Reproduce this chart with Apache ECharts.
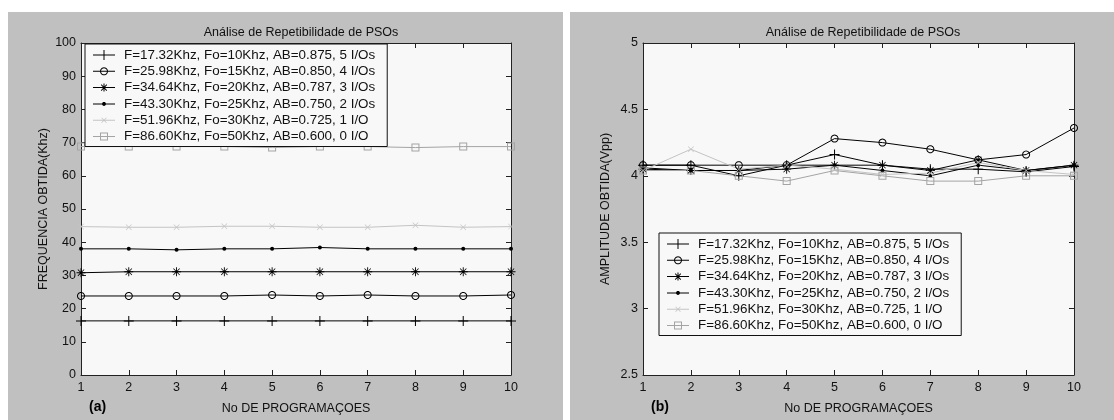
<!DOCTYPE html>
<html>
<head>
<meta charset="utf-8">
<script src="https://cdn.jsdelivr.net/npm/echarts@6/dist/echarts.min.js"></script>
<style>
  html, body { margin: 0; padding: 0; background: #ffffff; }
  #chart { width: 1114px; height: 420px; }
</style>
</head>
<body>
<div id="chart"></div>
<script>
// Programming runs (x axis) shared by both panels
const runs = [1, 2, 3, 4, 5, 6, 7, 8, 9, 10];

// Series names (filter configurations)
const seriesNames = [
  'F=17.32Khz, Fo=10Khz, AB=0.875, 5 I/Os',
  'F=25.98Khz, Fo=15Khz, AB=0.850, 4 I/Os',
  'F=34.64Khz, Fo=20Khz, AB=0.787, 3 I/Os',
  'F=43.30Khz, Fo=25Khz, AB=0.750, 2 I/Os',
  'F=51.96Khz, Fo=30Khz, AB=0.725, 1 I/O',
  'F=86.60Khz, Fo=50Khz, AB=0.600, 0 I/O'
];

// (a) obtained frequency, kHz
const freq17 = [16.3, 16.3, 16.3, 16.3, 16.3, 16.3, 16.3, 16.3, 16.3, 16.3];
const freq26 = [23.8, 23.8, 23.8, 23.8, 24.1, 23.8, 24.1, 23.8, 23.8, 24.1];
const freq35 = [30.8, 31.1, 31.1, 31.1, 31.1, 31.1, 31.1, 31.1, 31.1, 31.1];
const freq43 = [38.0, 38.0, 37.7, 38.0, 38.0, 38.4, 38.0, 38.0, 38.0, 38.0];
const freq52 = [44.7, 44.5, 44.5, 44.8, 44.8, 44.5, 44.5, 45.1, 44.5, 44.7];
const freq87 = [68.8, 68.8, 68.8, 68.8, 68.5, 68.8, 68.8, 68.5, 68.8, 68.8];

// (b) obtained amplitude, Vpp
const amp17 = [4.08, 4.08, 4.00, 4.08, 4.16, 4.08, 4.05, 4.05, 4.03, 4.07];
const amp26 = [4.08, 4.08, 4.08, 4.08, 4.28, 4.25, 4.20, 4.12, 4.16, 4.36];
const amp35 = [4.05, 4.04, 4.04, 4.05, 4.08, 4.08, 4.04, 4.12, 4.04, 4.08];
const amp43 = [4.06, 4.04, 4.04, 4.08, 4.08, 4.04, 4.00, 4.08, 4.04, 4.08];
const amp52 = [4.04, 4.20, 4.05, 4.08, 4.05, 4.01, 4.02, 4.10, 4.04, 4.01];
const amp87 = [4.04, 4.04, 4.00, 3.96, 4.04, 4.00, 3.96, 3.96, 4.00, 4.00];

// Axis tick values
const freqTicks = [0, 10, 20, 30, 40, 50, 60, 70, 80, 90, 100];
const ampTicks = [2.5, 3, 3.5, 4, 4.5, 5];

const FONT = '"Liberation Sans", Arial, sans-serif';
const FS = 12.5;

// Regular polygon path (used for circles / rings); reverse winding cuts a hole
function poly(cx, cy, r, n, reverse) {
  const pts = [];
  for (let i = 0; i < n; i++) {
    const a = (reverse ? -1 : 1) * (2 * Math.PI * i / n);
    pts.push((cx + r * Math.cos(a)).toFixed(2) + ',' + (cy + r * Math.sin(a)).toFixed(2));
  }
  return 'M' + pts.join('L') + 'Z';
}

// ---- plot markers, drawn as thin filled strokes (hollow where needed) ----
const SYM_PLUS = 'path://M-5,-0.5L5,-0.5L5,0.5L-5,0.5Z M-0.5,-5L0.5,-5L0.5,5L-0.5,5Z';
const SYM_CIRCLE = 'path://' + poly(0, 0, 5, 28, false) + ' ' + poly(0, 0, 3.75, 28, true);
const SYM_STAR = 'path://M-5,-0.5L5,-0.5L5,0.5L-5,0.5Z M-0.5,-5L0.5,-5L0.5,5L-0.5,5Z M-3.8,-3.2L-3.2,-3.8L3.8,3.2L3.2,3.8Z M3.2,-3.8L3.8,-3.2L-3.2,3.8L-3.8,3.2Z';
const SYM_X = 'path://M-5,-4.3L-4.3,-5L5,4.3L4.3,5Z M4.3,-5L5,-4.3L-4.3,5L-5,4.3Z';
const SYM_SQUARE = 'path://M-5,-5L5,-5L5,5L-5,5Z M-3.75,3.75L3.75,3.75L3.75,-3.75L-3.75,-3.75Z';

// ---- legend icons: 22x10 box with a line sample and the marker in the middle ----
const ICON_LINE = 'M0,4.5L22,4.5L22,5.5L0,5.5Z';
const ICON_PLUS = 'path://' + ICON_LINE + ' M10.5,0L11.5,0L11.5,10L10.5,10Z';
const ICON_CIRCLE = 'path://' + ICON_LINE + ' ' + poly(11, 5, 4, 24, false) + ' ' + poly(11, 5, 3, 24, true);
const ICON_STAR = 'path://' + ICON_LINE + ' M10.5,1L11.5,1L11.5,9L10.5,9Z M7.9,2.3L8.5,1.7L14.1,7.7L13.5,8.3Z M13.5,1.7L14.1,2.3L8.5,8.3L7.9,7.7Z';
const ICON_DOT = 'path://' + ICON_LINE + ' ' + poly(11, 5, 2, 16, false);
const ICON_X = 'path://' + ICON_LINE + ' M8.3,2.8L8.8,2.3L13.7,7.2L13.2,7.7Z M13.2,2.3L13.7,2.8L8.8,7.7L8.3,7.2Z';
const ICON_SQUARE = 'path://' + ICON_LINE + ' M7,1L15,1L15,9L7,9Z M8,8L14,8L14,2L8,2Z';

const styles = [
  { symbol: SYM_PLUS, size: 10, color: '#000000', icon: ICON_PLUS },
  { symbol: SYM_CIRCLE, size: 8, color: '#000000', icon: ICON_CIRCLE },
  { symbol: SYM_STAR, size: 9, color: '#000000', icon: ICON_STAR },
  { symbol: 'circle', size: 4, color: '#000000', icon: ICON_DOT },
  { symbol: SYM_X, size: 6, color: '#c4c4c4', icon: ICON_X },
  { symbol: SYM_SQUARE, size: 8, color: '#a4a4a4', icon: ICON_SQUARE }
];

function pairs(vals) {
  return runs.map((r, i) => [r, vals[i]]);
}

function makeSeries(valueSets, axisIndex) {
  return valueSets.map((vals, k) => ({
    name: seriesNames[k],
    type: 'line',
    xAxisIndex: axisIndex,
    yAxisIndex: axisIndex,
    data: pairs(vals),
    symbol: styles[k].symbol,
    symbolSize: styles[k].size,
    symbolKeepAspect: true,
    showAllSymbol: true,
    animation: false,
    color: styles[k].color,
    lineStyle: { color: styles[k].color, width: 1 },
    itemStyle: { color: styles[k].color, borderWidth: 0 },
    emphasis: { disabled: true }
  }));
}

const axisText = { color: '#111111', fontFamily: FONT, fontSize: FS };
const lineCol = '#222222';

function xAxes(gridIndex) {
  return [
    {
      gridIndex: gridIndex, type: 'value', position: 'bottom',
      min: 1, max: 10, interval: 1,
      name: 'No DE PROGRAMAÇOES', nameLocation: 'middle', nameGap: 27,
      nameTextStyle: axisText,
      axisLine: { show: true, onZero: false, lineStyle: { color: lineCol } },
      axisTick: { show: true, inside: true, length: 5, lineStyle: { color: lineCol } },
      axisLabel: Object.assign({ margin: 6 }, axisText),
      splitLine: { show: false }
    },
    {
      gridIndex: gridIndex, type: 'value', position: 'top',
      min: 1, max: 10, interval: 1,
      axisLine: { show: true, onZero: false, lineStyle: { color: lineCol } },
      axisTick: { show: true, inside: true, length: 5, lineStyle: { color: lineCol } },
      axisLabel: { show: false },
      splitLine: { show: false }
    }
  ];
}

function yAxes(gridIndex, ticks, name) {
  const step = ticks[1] - ticks[0];
  return [
    {
      gridIndex: gridIndex, type: 'value', position: 'left',
      min: ticks[0], max: ticks[ticks.length - 1], interval: step,
      name: name, nameLocation: 'middle', nameGap: 31, nameRotate: 90,
      nameTextStyle: axisText,
      axisLine: { show: true, onZero: false, lineStyle: { color: lineCol } },
      axisTick: { show: true, inside: true, length: 5, lineStyle: { color: lineCol } },
      axisLabel: Object.assign({ margin: 5 }, axisText),
      splitLine: { show: false }
    },
    {
      gridIndex: gridIndex, type: 'value', position: 'right',
      min: ticks[0], max: ticks[ticks.length - 1], interval: step,
      axisLine: { show: true, onZero: false, lineStyle: { color: lineCol } },
      axisTick: { show: true, inside: true, length: 5, lineStyle: { color: lineCol } },
      axisLabel: { show: false },
      splitLine: { show: false }
    }
  ];
}

const leftX = xAxes(0), rightX = xAxes(1);
const leftY = yAxes(0, freqTicks, 'FREQUENCIA OBTIDA(Khz)');
const rightY = yAxes(1, ampTicks, 'AMPLITUDE OBTIDA(Vpp)');

// Series bind to axis pairs: bottom x / left y of each grid
const seriesA = makeSeries([freq17, freq26, freq35, freq43, freq52, freq87], 0);
const seriesB = makeSeries([amp17, amp26, amp35, amp43, amp52, amp87], 2);

const legendBase = {
  orient: 'vertical',
  backgroundColor: '#f8f8f8',
  borderColor: '#111111',
  borderWidth: 1,
  borderRadius: 0,
  padding: [4, 12, 3, 8],
  itemGap: 2.3,
  itemWidth: 22,
  itemHeight: 10,
  symbolKeepAspect: true,
  selectedMode: false,
  itemStyle: { borderWidth: 0 },
  textStyle: { color: '#111111', fontFamily: FONT, fontSize: 13.4, lineHeight: 14, padding: [0, 0, 0, 4] },
  data: seriesNames.map((n, k) => ({ name: n, icon: styles[k].icon }))
};

const option = {
  backgroundColor: '#ffffff',
  animation: false,
  graphic: [
    { type: 'rect', z: -10, shape: { x: 8, y: 12, width: 555, height: 408 }, style: { fill: '#c0c0c0' } },
    { type: 'rect', z: -10, shape: { x: 570, y: 12, width: 544, height: 408 }, style: { fill: '#c0c0c0' } },
    { type: 'text', x: 89, y: 400, style: { text: '(a)', fill: '#000', font: 'bold 14px ' + FONT } },
    { type: 'text', x: 651, y: 400, style: { text: '(b)', fill: '#000', font: 'bold 14px ' + FONT } }
  ],
  title: [
    { text: 'Análise de Repetibilidade de PSOs', left: 296, top: 21, textAlign: 'center',
      textStyle: { fontFamily: FONT, fontSize: FS, fontWeight: 'normal', color: '#111' } },
    { text: 'Análise de Repetibilidade de PSOs', left: 858, top: 21, textAlign: 'center',
      textStyle: { fontFamily: FONT, fontSize: FS, fontWeight: 'normal', color: '#111' } }
  ],
  grid: [
    { left: 81, top: 43, width: 430, height: 338, show: true, backgroundColor: '#f8f8f8', borderWidth: 0 },
    { left: 643, top: 43, width: 431, height: 338, show: true, backgroundColor: '#f8f8f8', borderWidth: 0 }
  ],
  xAxis: [leftX[0], leftX[1], rightX[0], rightX[1]],
  yAxis: [leftY[0], leftY[1], rightY[0], rightY[1]],
  legend: [
    Object.assign({}, legendBase, { left: 85, top: 44 }),
    Object.assign({}, legendBase, { left: 659, top: 233 })
  ],
  series: seriesA.concat(seriesB)
};

const chart = echarts.init(document.getElementById('chart'), null, { renderer: 'canvas' });
chart.setOption(option);
</script>
</body>
</html>
